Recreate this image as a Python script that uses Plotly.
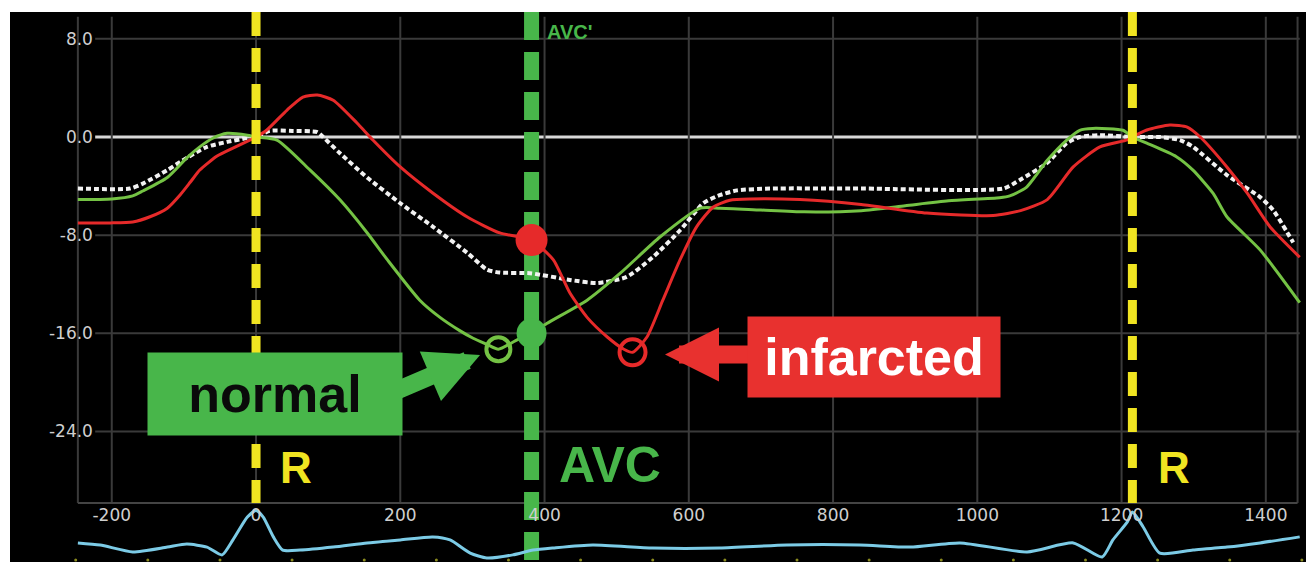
import plotly.graph_objects as go

# ---------------- data (time in ms, strain in %) ----------------
normal_t = [-247, -200, -171, -157, -123, -96, -78, -60, -40, -12, 0, 29, 75, 116, 154, 182,
            227, 255, 283, 301, 320, 336, 360, 382, 403, 459, 505, 560, 616, 643, 700, 760,
            839, 900, 960, 1031, 1045, 1068, 1097, 1124, 1142, 1160, 1202, 1215, 1235, 1276,
            1299, 1327, 1346, 1392, 1447]
normal_s = [-5.1, -5.05, -4.8, -4.4, -3.3, -1.7, -0.8, -0.1, 0.3, 0.15, 0, -0.25, -2.7, -5.1,
            -7.8, -10.0, -13.3, -14.7, -15.8, -16.4, -16.9, -17.3, -16.6, -16.0, -15.2, -13.3,
            -11.1, -8.15, -5.8, -5.8, -5.95, -6.1, -6.0, -5.6, -5.2, -4.95, -4.8, -4.1, -1.9,
            -0.25, 0.55, 0.7, 0.55, 0, -0.5, -1.6, -2.7, -4.6, -6.5, -9.2, -13.5]

infarct_t = [-247, -202, -171, -147, -123, -105, -91, -78, -54, -32, -8, 0, 15, 43, 65, 85,
             107, 140, 162, 200, 245, 293, 338, 382, 412, 435, 459, 487, 510, 522, 542, 564,
             588, 611, 634, 657, 685, 754, 839, 930, 1022, 1060, 1097, 1133, 1170, 1208, 1215,
             1235, 1267, 1291, 1309, 1346, 1374, 1406, 1447]
infarct_s = [-7.0, -7.0, -6.93, -6.5, -5.8, -4.7, -3.67, -2.69, -1.55, -0.9, -0.24, 0, 0.57,
             2.2, 3.26, 3.42, 3.0, 1.14, -0.24, -2.44, -4.56, -6.52, -7.82, -8.4, -10.0,
             -12.7, -14.7, -16.3, -17.3, -17.55, -16.3, -13.3, -10.0, -7.3, -5.7, -5.15,
             -5.05, -5.1, -5.5, -6.2, -6.4, -6.0, -5.1, -2.44, -0.81, -0.24, 0, 0.57, 0.98,
             0.81, 0, -2.44, -4.56, -7.33, -9.8]

mean_t = [-247, -175, -157, -123, -96, -68, -40, -12, 0, 19, 50, 85, 93, 116, 154, 200, 245,
          293, 320, 338, 380, 435, 473, 514, 550, 588, 620, 640, 667, 713, 839, 1036, 1059,
          1097, 1124, 1142, 1170, 1215, 1253, 1281, 1299, 1346, 1392, 1410, 1438]
mean_s = [-4.2, -4.2, -3.8, -2.7, -1.7, -0.8, -0.4, -0.08, 0, 0.5, 0.5, 0.4, 0, -1.3, -3.3,
          -5.4, -7.3, -9.45, -10.8, -11.05, -11.1, -11.65, -11.9, -11.4, -9.8, -7.6, -5.4,
          -4.8, -4.35, -4.2, -4.2, -4.2, -3.5, -2.1, -0.5, 0, 0.15, 0, 0, -0.25, -0.8, -3.1,
          -4.9, -5.95, -8.6]

ecg_t = [-247, -216, -171, -123, -96, -68, -47, -32, -12, 0, 10, 24, 37, 61, 107, 154, 200,
         245, 269, 297, 320, 356, 384, 412, 467, 550, 643, 736, 837, 907, 976, 1069, 1133,
         1173, 1188, 1208, 1215, 1230, 1253, 1299, 1346, 1392, 1447]
ecg_v = [0.17, 0.10, -0.13, 0.03, 0.13, 0.03, -0.23, 0.27, 1.03, 1.25, 1.03, 0.37, -0.07,
         -0.07, 0.03, 0.17, 0.27, 0.37, 0.27, -0.17, -0.33, -0.23, -0.07, 0.0, 0.10, 0.0, 0.0,
         0.10, 0.10, 0.03, 0.17, -0.13, 0.17, -0.30, 0.27, 0.87, 1.2, 0.70, -0.17, -0.07,
         0.03, 0.17, 0.37]
ecg_tick_t = [-250, -150, -50, 50, 150, 250, 350, 450, 550, 650, 750, 850, 950, 1050, 1150,
              1250, 1350, 1450]
ecg_tick_v = [-0.4] * len(ecg_tick_t)

r_times = [0, 1215]
avc_time = 382
normal_avc = [382, -16.0]
normal_peak = [336, -17.3]
infarct_avc = [382, -8.4]
infarct_peak = [522, -17.55]

x_ticks = [-200, 0, 200, 400, 600, 800, 1000, 1200, 1400]
x_tick_text = ["-200", "0", "200", "400", "600", "800", "1000", "1200", "1400"]
y_grid = [8, -8, -16, -24]
y_ticks = [8, 0, -8, -16, -24]
y_tick_text = ["8.0", "0.0", "-8.0", "-16.0", "-24.0"]

# ---------------- styling ----------------
X_RANGE = [-341.1, 1455.7]
Y_RANGE = [-34.64, 10.19]
ECG_RANGE = [-0.467, 17.867]   # ECG overlays the full plot; it only fills the bottom strip
STRIP = 0.1073                 # fraction of height used by the ECG strip
SEP_Y = -29.83                 # strain value at the strip separator
GRID_TOP = 9.8
GRID_X0, GRID_X1 = -223, 1447
FRAME_X0, FRAME_X1 = -247, 1444

GREEN_CURVE = "#74c244"
GREEN = "#48b64a"
RED = "#e62a2a"
RED_BOX = "#e8312f"
YELLOW = "#f0e421"
GRIDC = "#3a3a3a"
FONT = "Arial, Liberation Sans, sans-serif"

fig = go.Figure()

# ECG strip
fig.add_trace(go.Scatter(x=ecg_t, y=ecg_v, yaxis="y2", mode="lines",
                         line=dict(color="#7ccbe6", width=3, shape="spline", smoothing=0.6)))
fig.add_trace(go.Scatter(x=ecg_tick_t, y=ecg_tick_v, yaxis="y2", mode="markers",
                         marker=dict(color="#8a8a1e", size=3)))

# AVC dashed line
fig.add_trace(go.Scatter(x=[avc_time, avc_time], y=[Y_RANGE[1], Y_RANGE[0]], mode="lines",
                         line=dict(color=GREEN, width=15, dash="28px,12px")))

# strain curves
fig.add_trace(go.Scatter(x=mean_t, y=mean_s, mode="lines",
                         line=dict(color="#f2f2f2", width=4, dash="5px,3px",
                                   shape="spline", smoothing=0.6)))
fig.add_trace(go.Scatter(x=normal_t, y=normal_s, mode="lines",
                         line=dict(color=GREEN_CURVE, width=3, shape="spline", smoothing=0.6)))
fig.add_trace(go.Scatter(x=infarct_t, y=infarct_s, mode="lines",
                         line=dict(color=RED, width=3, shape="spline", smoothing=0.6)))

# markers
fig.add_trace(go.Scatter(x=[normal_peak[0]], y=[normal_peak[1]], mode="markers",
                         marker=dict(symbol="circle-open", size=24, color=GREEN_CURVE,
                                     line=dict(width=4, color=GREEN_CURVE))))
fig.add_trace(go.Scatter(x=[infarct_peak[0]], y=[infarct_peak[1]], mode="markers",
                         marker=dict(symbol="circle-open", size=26, color=RED,
                                     line=dict(width=4, color=RED))))
fig.add_trace(go.Scatter(x=[normal_avc[0]], y=[normal_avc[1]], mode="markers",
                         marker=dict(size=30, color=GREEN)))
fig.add_trace(go.Scatter(x=[infarct_avc[0]], y=[infarct_avc[1]], mode="markers",
                         marker=dict(size=32, color=RED)))

shapes = []
for v in y_grid:
    shapes.append(dict(type="line", x0=GRID_X0, x1=GRID_X1, y0=v, y1=v, xref="x", yref="y",
                       line=dict(color=GRIDC, width=2), layer="below"))
shapes.append(dict(type="line", x0=GRID_X0, x1=GRID_X1, y0=0, y1=0, xref="x", yref="y",
                   line=dict(color="#d8d8d8", width=3), layer="below"))
for t in x_ticks + [FRAME_X0, FRAME_X1]:
    shapes.append(dict(type="line", x0=t, x1=t, y0=GRID_TOP, y1=SEP_Y, xref="x", yref="y",
                       line=dict(color=GRIDC, width=2), layer="below"))
shapes.append(dict(type="line", x0=FRAME_X0, x1=FRAME_X1, y0=SEP_Y, y1=SEP_Y, xref="x",
                   yref="y", line=dict(color="#444444", width=2), layer="below"))
for t in r_times:
    shapes.append(dict(type="line", x0=t, x1=t, y0=Y_RANGE[1], y1=SEP_Y, xref="x", yref="y",
                       line=dict(color=YELLOW, width=9, dash="24px,12px"), layer="above"))

annotations = [
    dict(x=401, y=8.56, xref="x", yref="y", text="AVC'", showarrow=False, xanchor="left",
         yanchor="middle", font=dict(family=FONT, size=20, color=GREEN, weight="bold")),
    dict(x=55.5, y=-26.9, xref="x", yref="y", text="R", showarrow=False,
         font=dict(family=FONT, size=44, color=YELLOW, weight="bold")),
    dict(x=1272.7, y=-26.9, xref="x", yref="y", text="R", showarrow=False,
         font=dict(family=FONT, size=44, color=YELLOW, weight="bold")),
    dict(x=490.8, y=-26.7, xref="x", yref="y", text="AVC", showarrow=False,
         font=dict(family=FONT, size=50, color=GREEN, weight="bold")),
    # arrows
    dict(x=310.6, y=-17.77, ax=165, ay=-21.43, xref="x", yref="y", axref="x", ayref="y",
         text=" ", font=dict(size=1), showarrow=True, arrowhead=2, arrowsize=0.6,
         arrowwidth=18, arrowcolor=GREEN, standoff=0),
    dict(x=567, y=-17.73, ax=754, ay=-17.73, xref="x", yref="y", axref="x", ayref="y",
         text=" ", font=dict(size=1), showarrow=True, arrowhead=2, arrowsize=0.6,
         arrowwidth=18, arrowcolor=RED_BOX, standoff=0),
    # labelled boxes
    dict(x=26.3, y=-20.95, xref="x", yref="y", text="normal", showarrow=False,
         width=254, height=82, bgcolor=GREEN, borderpad=0, align="center", valign="middle",
         font=dict(family=FONT, size=52, color="#0a0a0a", weight="bold")),
    dict(x=856.8, y=-17.97, xref="x", yref="y", text="infarcted", showarrow=False,
         width=252, height=80, bgcolor=RED_BOX, borderpad=0, align="center", valign="middle",
         font=dict(family=FONT, size=52, color="#ffffff", weight="bold")),
]

fig.update_layout(
    width=1306, height=562,
    margin=dict(l=10, r=0, t=12, b=0),
    paper_bgcolor="#ffffff", plot_bgcolor="#000000",
    showlegend=False, hovermode=False,
    shapes=shapes, annotations=annotations,
    xaxis=dict(range=X_RANGE, domain=[0, 1], anchor="free", position=STRIP,
               tickvals=x_ticks, ticktext=x_tick_text, ticks="", showgrid=False,
               zeroline=False, showline=False, automargin=False, fixedrange=True,
               tickfont=dict(family="DejaVu Sans", size=17, color="#cfcfcf")),
    yaxis=dict(range=Y_RANGE, domain=[0, 1], anchor="free", position=0.064,
               tickvals=y_ticks, ticktext=y_tick_text, ticks="", showgrid=False,
               zeroline=False, showline=False, automargin=False, fixedrange=True,
               tickfont=dict(family="DejaVu Sans", size=17, color="#cfcfcf")),
    yaxis2=dict(range=ECG_RANGE, overlaying="y", anchor="x", visible=False,
                showgrid=False, zeroline=False, fixedrange=True),
)

fig.write_html(
    "out.html",
    config={"displayModeBar": False},
    post_script="document.body.style.margin='0';document.body.style.overflow='hidden';",
)
